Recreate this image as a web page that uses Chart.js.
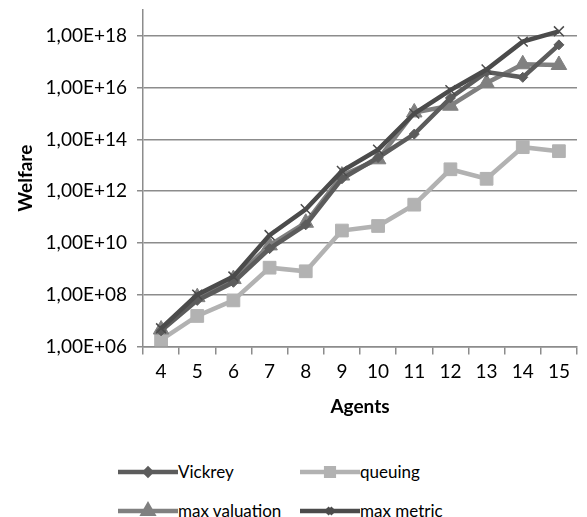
<!DOCTYPE html>
<html>
<head>
<meta charset="utf-8">
<script src="https://cdn.jsdelivr.net/npm/chart.js@4.4.0/dist/chart.umd.min.js"></script>
<style>
  body { margin: 0; background: #fff; }
  #wrap { position: relative; width: 587px; height: 517px; }
  #chartBox { position: absolute; left: 0; top: 0; width: 587px; height: 420px; }
  .lg { position: absolute; font: 17px Lato, sans-serif; color: #000; display: flex; align-items: center; white-space: nowrap; }
  .lg canvas { display: block; }
</style>
</head>
<body>
<div id="wrap">
  <div id="chartBox"><canvas id="welfareChart"></canvas></div>
</div>
<script>
const agents = ['4', '5', '6', '7', '8', '9', '10', '11', '12', '13', '14', '15'];
const vickrey = [4e6, 6e7, 3e8, 6e9, 5e10, 3e12, 2e13, 1.6e14, 4e15, 4e16, 2.5e16, 4.5e17];
const queuing = [1.8e6, 1.5e7, 6e7, 1.1e9, 8e8, 3e10, 4.5e10, 3e11, 7e12, 3e12, 5e13, 3.5e13];
const maxValuation = [4.5e6, 8e7, 4e8, 8e9, 6e10, 4e12, 1.7e13, 1.1e15, 2e15, 1.5e16, 8e16, 7.5e16];
const maxMetric = [5e6, 1e8, 5e8, 2e10, 2e11, 6e12, 4e13, 1e15, 8e15, 5e16, 6e17, 1.5e18];
const yTicks = [1e6, 1e8, 1e10, 1e12, 1e14, 1e16, 1e18];

const series = [
    { label: 'Vickrey', data: vickrey, color: '#5c5c5c', style: 'rectRot', radius: 5, order: 1 },
    { label: 'queuing', data: queuing, color: '#b2b2b2', style: 'rect', radius: 9, order: 3 },
    { label: 'max valuation', data: maxValuation, color: '#808080', style: 'triangle', radius: 9, order: 2 },
    { label: 'max metric', data: maxMetric, color: '#4b4b4b', style: 'crossRot', radius: 7, order: 0 }
];

function sci(v) {
    const e = Math.round(Math.log10(v));
    return '1,00E+' + (e < 10 ? '0' + e : e);
}

const ctx = document.getElementById('welfareChart').getContext('2d');
new Chart(ctx, {
    type: 'line',
    data: {
        labels: agents,
        datasets: series.map(s => ({
            label: s.label,
            data: s.data,
            borderColor: s.color,
            backgroundColor: s.color,
            borderWidth: 4.5,
            pointStyle: s.style,
            pointRadius: s.radius,
            pointBorderWidth: s.style === 'crossRot' ? 1.5 : 1,
            pointBorderColor: s.color,
            pointBackgroundColor: s.color,
            tension: 0,
            order: s.order
        }))
    },
    options: {
        responsive: true,
        maintainAspectRatio: false,
        animation: false,
        layout: { padding: { top: 8, right: 5, left: 4, bottom: 2 } },
        plugins: {
            legend: { display: false },
            tooltip: { enabled: false }
        },
        scales: {
            x: {
                offset: true,
                grid: { drawOnChartArea: false, offset: true, tickLength: 8, color: '#8c8c8c', lineWidth: 1.5 },
                border: { color: '#8c8c8c', width: 1.5 },
                ticks: { color: '#000', font: { family: 'Lato', size: 19 }, padding: 6 },
                title: { display: true, text: 'Agents', color: '#000', font: { family: 'Lato', size: 19, weight: 'bold' }, padding: { top: 6, bottom: 0 } }
            },
            y: {
                type: 'logarithmic',
                min: 1e6,
                max: 1e19,
                afterBuildTicks: axis => { axis.ticks = yTicks.map(v => ({ value: v })); },
                afterFit: axis => { axis.width = 139; axis.paddingTop = 0; axis.paddingBottom = 0; },
                grid: { color: '#8c8c8c', lineWidth: 1.5, tickLength: 6 },
                border: { color: '#8c8c8c', width: 1.5 },
                ticks: { color: '#000', font: { family: 'Lato', size: 19 }, padding: 10, callback: v => sci(v) },
                title: { display: true, text: 'Welfare', color: '#000', font: { family: 'Lato', size: 19, weight: 'bold' }, padding: { top: 10, bottom: 0 } }
            }
        }
    }
});

// legend as html: line sample with the marker in its middle
function sample(s) {
    const c = document.createElement('canvas');
    c.width = 60; c.height = 20;
    const g = c.getContext('2d');
    g.strokeStyle = s.color; g.fillStyle = s.color; g.lineWidth = 4.5;
    g.beginPath(); g.moveTo(0, 10); g.lineTo(60, 10); g.stroke();
    Chart.helpers.drawPoint(g, { pointStyle: s.style, radius: s.radius * 0.6, borderWidth: 1.5 }, 30, 10);
    if (s.style !== 'crossRot') g.fill();
    return c;
}
const spots = [[118, 461], [300, 461], [118, 500], [300, 500]];
series.forEach((s, i) => {
    const d = document.createElement('div');
    d.className = 'lg';
    d.style.left = spots[i][0] + 'px';
    d.style.top = spots[i][1] + 'px';
    d.appendChild(sample(s));
    const t = document.createElement('span');
    t.textContent = s.label;
    d.appendChild(t);
    document.getElementById('wrap').appendChild(d);
});
</script>
</body>
</html>
